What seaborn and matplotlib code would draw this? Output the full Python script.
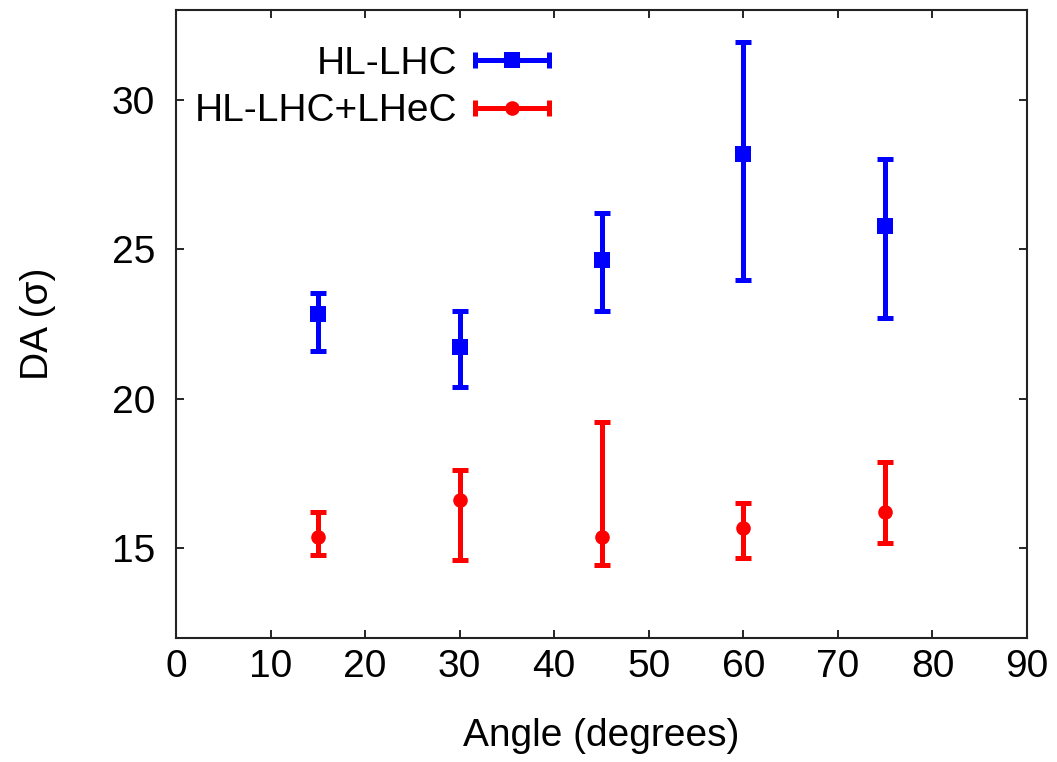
import matplotlib
matplotlib.use("Agg")
import matplotlib.pyplot as plt
import seaborn as sns
import pandas as pd
from matplotlib.lines import Line2D
from matplotlib.legend_handler import HandlerLine2D, HandlerTuple

angles = [15, 30, 45, 60, 75]
hl_center = [22.83, 21.73, 24.63, 28.17, 25.77]
hl_low = [21.60, 20.40, 22.93, 23.97, 22.70]
hl_high = [23.53, 22.93, 26.20, 31.93, 28.03]
lhec_center = [15.37, 16.63, 15.37, 15.67, 16.20]
lhec_low = [14.77, 14.60, 14.43, 14.67, 15.17]
lhec_high = [16.20, 17.63, 19.23, 16.53, 17.90]

labels = ["HL-LHC", "HL-LHC+LHeC"]
colors = ["#0000ff", "#ff0000"]
markers = ["s", "o"]

sns.set_theme(style="ticks")
plt.rcParams["font.family"] = ["Liberation Sans", "DejaVu Sans"]
plt.rcParams["text.color"] = "black"
plt.rcParams["axes.labelcolor"] = "black"
FS = 28

fig = plt.figure(figsize=(10.57, 7.62), dpi=100)
ax = fig.add_axes([176 / 1057, 1 - 638 / 762, (1027 - 176) / 1057, (638 - 10) / 762])

series = [
    (hl_center, hl_low, hl_high),
    (lhec_center, lhec_low, lhec_high),
]
handles = []
hmap = {}
for (c, lo, hi), lab, col, mk in zip(series, labels, colors, markers):
    df = pd.DataFrame({"angle": angles, "da": c})
    yerr = [[ci - l for ci, l in zip(c, lo)], [h - ci for ci, h in zip(c, hi)]]
    ax.errorbar(df["angle"], df["da"], yerr=yerr, fmt="none", ecolor=col,
                elinewidth=3.6, capsize=6, capthick=3.6, zorder=2)
    ms = 11.5 if mk == "s" else 10.5
    sns.scatterplot(data=df, x="angle", y="da", marker=mk, color=col,
                    s=ms ** 2, edgecolor=col, linewidth=0, ax=ax, zorder=3,
                    legend=False)
    caps = Line2D([], [], color=col, lw=3.6, marker="|", markersize=12,
                  markeredgewidth=3.6)
    center = Line2D([], [], color=col, lw=0, marker=mk, markersize=ms,
                    markeredgewidth=0)
    hmap[caps] = HandlerLine2D(numpoints=2)
    hmap[center] = HandlerLine2D(numpoints=1)
    handles.append((caps, center))

leg = ax.legend(handles, labels, loc="upper left", markerfirst=False,
                frameon=False, fontsize=FS, handlelength=2.5, handletextpad=0.15,
                labelspacing=0.3, borderaxespad=0.0,
                bbox_to_anchor=(0.004, 0.968),
                handler_map={**hmap, tuple: HandlerTuple(ndivide=1)})

ax.set_xlim(0, 90)
ax.set_ylim(12, 33)
ax.set_xticks(range(0, 91, 10))
ax.set_yticks([15, 20, 25, 30])
ax.tick_params(direction="in", length=6, width=1.2, top=True, right=True,
               labelsize=FS, colors="#000000")
ax.tick_params(axis="x", pad=8)
ax.tick_params(axis="y", pad=15)
for s in ax.spines.values():
    s.set_visible(True)
    s.set_color("#222222")
    s.set_linewidth(1.5)
ax.set_xlabel("Angle (degrees)", fontsize=FS, labelpad=24)
ax.set_ylabel("DA (σ)", fontsize=FS, labelpad=40)

fig.savefig("out.png", dpi=100, facecolor="white")
